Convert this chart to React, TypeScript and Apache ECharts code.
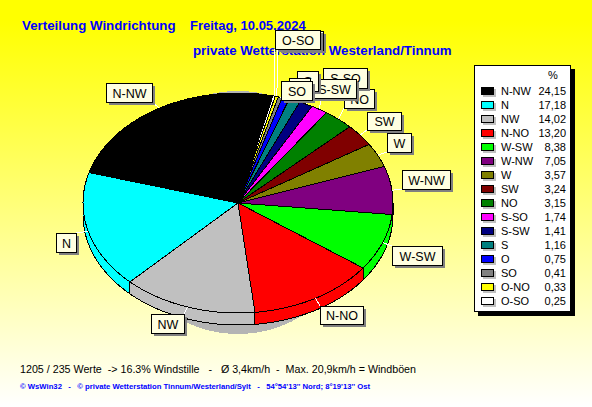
import React, { useEffect, useRef } from "react";
import * as echarts from "echarts";

const directions = ["N-NW", "N", "NW", "N-NO", "W-SW", "W-NW", "W", "SW", "NO", "S-SO", "S-SW", "S", "O", "SO", "O-NO", "O-SO"];
const shares = [24.15, 17.18, 14.02, 13.2, 8.38, 7.05, 3.57, 3.24, 3.15, 1.74, 1.41, 1.16, 0.75, 0.41, 0.33, 0.25];
const sliceColors = ["#000000", "#00FFFF", "#C0C0C0", "#FF0000", "#00FF00", "#800080", "#808000", "#800000", "#008000", "#FF00FF", "#000080", "#008080", "#0000FF", "#808080", "#FFFF00", "#FFFFFF"];

const titleLeft = "Verteilung Windrichtung";
const titleDate = "Freitag, 10.05.2024";
const titleStation = "private Wetterstation Westerland/Tinnum";
const summaryText = "1205 / 235 Werte  -> 16.3% Windstille   -   Ø 3,4km/h  -  Max. 20,9km/h = Windböen";
const footerText = "© WsWin32   -   © private Wetterstation Tinnum/Westerland/Sylt   -   54°54'13'' Nord; 8°19'13'' Ost";

// layout of the callout boxes: x, y, w, h per direction
const calloutBoxes: Record<string, number[]> = {
  "N-NW": [106, 83, 46, 19],
  N: [56, 233, 20, 19],
  NW: [151, 314, 33, 19],
  "N-NO": [320, 306, 43, 18],
  "W-SW": [392, 246, 50, 19],
  "W-NW": [402, 170, 48, 19],
  W: [387, 133, 24, 19],
  SW: [367, 112, 34, 18],
  NO: [344, 89, 30, 19],
  "S-SO": [323, 68, 44, 20],
  "S-SW": [312, 79, 44, 19],
  S: [297, 71, 21, 20],
  O: [289, 78, 21, 20],
  SO: [281, 81, 31, 19],
  "O-NO": [278, 31, 45, 19],
  "O-SO": [275, 30, 45, 19],
};

const CX = 238, CY = 203, RX = 155, RY = 110, DEPTH = 12, START = 77;
const SANS = '"Liberation Sans", Arial, sans-serif';

const total = shares.reduce((a, b) => a + b, 0);
const boundaries: number[] = [START];
shares.forEach((v, i) => boundaries.push(boundaries[i] + (v / total) * 360));

const edge = (deg: number, dy = 0): number[] => {
  const r = (deg * Math.PI) / 180;
  return [CX + RX * Math.cos(r), CY + dy - RY * Math.sin(r)];
};
const arc = (a0: number, a1: number, dy = 0): number[][] => {
  const n = Math.max(2, Math.ceil(Math.abs(a1 - a0) / 1.5));
  const pts: number[][] = [];
  for (let k = 0; k <= n; k++) pts.push(edge(a0 + ((a1 - a0) * k) / n, dy));
  return pts;
};

export default function App() {
  const ref = useRef<HTMLDivElement>(null);
  useEffect(() => {
    document.body.style.margin = "0";
    const chart = echarts.init(ref.current!, undefined, { renderer: "svg" });

    const graphics: any[] = [];
    const text = (t: string, x: number, y: number, font: string, fill: string, z: number, align = "left") =>
      graphics.push({ type: "text", x, y, z, style: { text: t, font, fill, align, verticalAlign: "middle" } });

    // page background
    graphics.push({
      type: "rect",
      z: -1,
      shape: { x: 0, y: 0, width: 592, height: 407 },
      style: {
        fill: new echarts.graphic.LinearGradient(0, 0, 0, 1, [
          { offset: 0, color: "#FFFF00" },
          { offset: 0.05, color: "#FFFF00" },
          { offset: 1, color: "#FFFFFF" },
        ]),
      },
    });

    text(titleLeft, 22, 25.5, `bold 13.3px ${SANS}`, "#0000FF", 0);
    text(titleDate, 190, 25.5, `bold 13px ${SANS}`, "#0000FF", 0);
    text(titleStation, 193, 50, `bold 13.3px ${SANS}`, "#0000FF", 0);
    text(summaryText, 20, 369, `10.7px ${SANS}`, "#000000", 0);
    text(footerText, 20, 386, `bold 7.7px ${SANS}`, "#0000FF", 0);

    // pie's cast shadow
    graphics.push({ type: "circle", z: 0, shape: { cx: 238, cy: 212.5, r: 121.5 }, style: { fill: "#B4B4B4" } });

    // callouts
    directions.forEach((name, i) => {
      const [x, y, w, h] = calloutBoxes[name];
      const z = 10 + i;
      const mid = (boundaries[i] + boundaries[i + 1]) / 2;
      const [ex, ey] = edge(mid);
      const lx = Math.min(x + w, Math.max(x, ex));
      const ly = Math.min(y + h, Math.max(y, ey));
      graphics.push({ type: "line", z, shape: { x1: ex, y1: ey, x2: lx, y2: ly }, style: { stroke: "#FFFFFF", lineWidth: 1 } });
      graphics.push({ type: "rect", z, shape: { x: x + 3, y: y + 3, width: w, height: h }, style: { fill: "#808080" } });
      graphics.push({ type: "rect", z, shape: { x: x + 0.5, y: y + 0.5, width: w, height: h, r: 1 }, style: { fill: "#FFFFE1", stroke: "#000000", lineWidth: 1 } });
      text(name, x + w / 2 + 0.5, y + h / 2 + 1, `12.5px ${SANS}`, "#000000", z, "center");
    });

    // legend panel
    const LZ = 40;
    graphics.push({ type: "rect", z: LZ, shape: { x: 478, y: 69, width: 97, height: 247 }, style: { fill: "#000000" } });
    graphics.push({ type: "rect", z: LZ, shape: { x: 474.5, y: 65.5, width: 96, height: 246 }, style: { fill: "#FFFFFF", stroke: "#000000", lineWidth: 1 } });
    text("%", 553, 75, `11px ${SANS}`, "#000000", LZ, "center");
    directions.forEach((name, i) => {
      const y = 91 + i * 14.02;
      graphics.push({ type: "rect", z: LZ, shape: { x: 483, y: Math.round(y) - 2, width: 13, height: 8 }, style: { fill: "#C0C0C0" } });
      graphics.push({ type: "rect", z: LZ, shape: { x: 481.5, y: Math.round(y) - 3.5, width: 12, height: 7 }, style: { fill: sliceColors[i], stroke: "#000000", lineWidth: 1 } });
      text(name, 501, y, `11px ${SANS}`, "#000000", LZ);
      text(shares[i].toFixed(2).replace(".", ","), 566, y, `11px ${SANS}`, "#000000", LZ, "right");
    });

    const style = (i: number) => ({ fill: sliceColors[i], stroke: "#000000", lineWidth: 1 });
    const values = shares.map((v, i) => ({ name: directions[i], value: v }));

    chart.setOption({
      animation: false,
      graphic: { elements: graphics },
      series: [
        {
          type: "custom",
          coordinateSystem: "none",
          z: 2,
          silent: true,
          data: values,
          renderItem: (p: any) => {
            const i = p.dataIndex;
            const a0 = Math.max(boundaries[i], 180);
            const a1 = Math.min(boundaries[i + 1], 360);
            if (a1 <= a0) return { type: "group", children: [] };
            const points = [...arc(a0, a1), ...arc(a1, a0, DEPTH)];
            return { type: "polygon", shape: { points }, style: style(i) };
          },
        },
        {
          type: "custom",
          coordinateSystem: "none",
          z: 3,
          silent: true,
          data: values,
          renderItem: (p: any) => {
            const i = p.dataIndex;
            const points = [[CX, CY], ...arc(boundaries[i], boundaries[i + 1])];
            return { type: "polygon", shape: { points }, style: style(i) };
          },
        },
      ],
    });
    return () => chart.dispose();
  }, []);
  return (
    <>
      <style>{`svg path, svg line, svg polygon, svg circle { shape-rendering: crispEdges; }`}</style>
      <div ref={ref} style={{ width: 592, height: 407 }} />
    </>
  );
}
